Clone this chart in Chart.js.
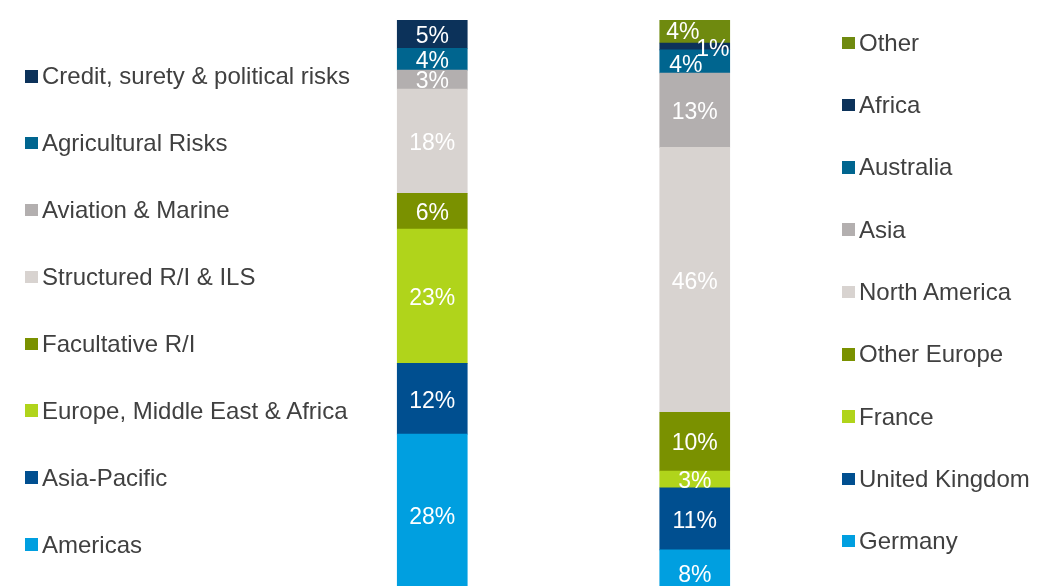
<!DOCTYPE html>
<html>
<head>
<meta charset="utf-8">
<title>Premium split</title>
<script src="https://cdn.jsdelivr.net/npm/chart.js@4.4.1/dist/chart.umd.min.js"></script>
<style>
  body { margin: 0; background: #fff; overflow: hidden; }
  #wrap { position: relative; width: 1038px; height: 586px; }
  .legend {
    position: absolute; margin: 0; padding: 0; list-style: none;
    font-family: "Liberation Sans", Arial, sans-serif; font-size: 24px; color: #404040;
  }
  .legend li { display: flex; align-items: center; white-space: nowrap; }
  .legend .box { width: 12.5px; height: 12.5px; margin-right: 4.5px; flex: none; }
  #legend-left { left: 25px; top: 42.85px; }
  #legend-left li { height: 66.9px; }
  #legend-right { left: 842px; top: 11.65px; }
  #legend-right li { height: 62.3px; }
</style>
</head>
<body>
<div id="wrap">
  <canvas id="split-chart"></canvas>
  <ul class="legend" id="legend-left"></ul>
  <ul class="legend" id="legend-right"></ul>
</div>
<script>
// two columns, stacked bottom -> top
const barNames = ["Business line", "Region"];

const lineLabels = [
  "Americas",
  "Asia-Pacific",
  "Europe, Middle East & Africa",
  "Facultative R/I",
  "Structured R/I & ILS",
  "Aviation & Marine",
  "Agricultural Risks",
  "Credit, surety & political risks",
];
const lineShares = [28.1, 12.3, 23.3, 6.2, 18.1, 3.3, 3.8, 4.9];
const lineColors = ["#009fe0", "#004f90", "#b0d41b", "#7a9100", "#d8d3d0", "#b3afaf", "#00658f", "#0c325a"];

const regionLabels = [
  "Germany",
  "United Kingdom",
  "France",
  "Other Europe",
  "North America",
  "Asia",
  "Australia",
  "Africa",
  "Other",
];
const regionShares = [8.0, 10.8, 2.9, 10.2, 46.0, 12.9, 4.0, 1.2, 4.0];
const regionColors = ["#009fe0", "#004f90", "#b0d41b", "#7a9100", "#d8d3d0", "#b3afaf", "#00658f", "#0c325a", "#6f8a0f"];

// small labels at the top of the region bar are pushed aside so they don't overlap
const labelNudge = { Other: [-12, -1.5], Africa: [18, 0.5], Australia: [-9, 1.5] };

const datasets = [];
lineLabels.forEach((name, i) => {
  datasets.push({ label: name, data: [lineShares[i], null], backgroundColor: lineColors[i], side: "left" });
});
regionLabels.forEach((name, i) => {
  datasets.push({ label: name, data: [null, regionShares[i]], backgroundColor: regionColors[i], side: "right" });
});

const valueLabels = {
  id: "valueLabels",
  afterDatasetsDraw(chart) {
    const ctx = chart.ctx;
    ctx.save();
    ctx.font = "23px 'Liberation Sans', Arial, sans-serif";
    ctx.fillStyle = "#ffffff";
    ctx.textAlign = "center";
    ctx.textBaseline = "middle";
    chart.data.datasets.forEach((ds, i) => {
      const meta = chart.getDatasetMeta(i);
      meta.data.forEach((bar, j) => {
        const v = ds.data[j];
        if (v == null) return;
        const nudge = labelNudge[ds.label] || [0, 0];
        // "middle" sits a bit high for digits
        const y = (bar.y + bar.base) / 2 + 2.5;
        ctx.fillText(Math.round(v) + "%", bar.x + nudge[0], y + nudge[1]);
      });
    });
    ctx.restore();
  },
};

const splitChart = new Chart(document.getElementById("split-chart"), {
  type: "bar",
  data: { labels: barNames, datasets: datasets },
  options: {
    responsive: true,
    maintainAspectRatio: false,
    animation: false,
    barThickness: 70,
    layout: { padding: { left: 301, right: 212, top: 20, bottom: 0 } },
    plugins: {
      legend: { display: false },
      tooltip: { enabled: false },
    },
    scales: {
      x: { stacked: true, display: false },
      // bottom of the picture cuts the bars a little above zero
      y: { stacked: true, display: false, min: 1.74, max: 100 },
    },
  },
  plugins: [valueLabels],
});

function buildLegend(chart, side, elId) {
  const items = chart.data.datasets.filter((ds) => ds.side === side).reverse();
  let html = "";
  for (let ds of items) {
    html += `<li><span class="box" style="background:${ds.backgroundColor}"></span>${ds.label.replace(/&/g, "&amp;")}</li>`;
  }
  document.getElementById(elId).innerHTML = html;
}
buildLegend(splitChart, "left", "legend-left");
buildLegend(splitChart, "right", "legend-right");
</script>
</body>
</html>
